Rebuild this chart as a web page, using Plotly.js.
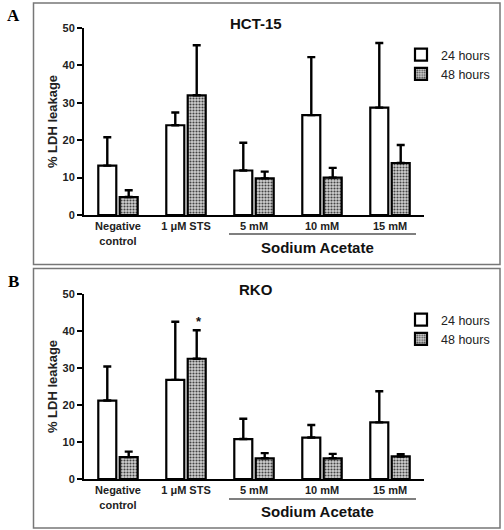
<!DOCTYPE html>
<html>
<head>
<meta charset="utf-8">
<script src="https://cdn.plot.ly/plotly-3.0.1.min.js"></script>
<style>html,body{margin:0;padding:0;background:#fff;overflow:hidden;}#chart{width:504px;height:530px;}</style>
</head>
<body>
<div id="chart"></div>
<script>
const categories = ['Negative<br>control', '1 μM STS', '5 mM', '10 mM', '15 mM'];
const seriesNames = ['24 hours', '48 hours'];
const hct24 = [13.2, 24.0, 11.9, 26.7, 28.7];
const hct24Err = [7.6, 3.4, 7.4, 15.5, 17.3];
const hct48 = [4.8, 32.0, 9.8, 10.0, 13.9];
const hct48Err = [1.8, 13.4, 1.8, 2.6, 4.8];
const rko24 = [21.2, 26.8, 10.8, 11.2, 15.3];
const rko24Err = [9.2, 15.7, 5.5, 3.4, 8.4];
const rko48 = [5.9, 32.5, 5.6, 5.6, 6.1];
const rko48Err = [1.5, 7.7, 1.4, 1.2, 0.6];
const yTicks = [0, 10, 20, 30, 40, 50];
const panelTitles = ['HCT-15', 'RKO'];
const panelLetters = ['A', 'B'];
const groupLabel = 'Sodium Acetate';

const zeros = categories.map(() => 0);
const fontFam = 'Liberation Sans, Arial, sans-serif';

function barTrace(vals, errs, name, is48, xa, ya, legend) {
  const t = {
    type: 'bar', x: categories, y: vals, name: name,
    xaxis: xa, yaxis: ya, legend: legend, showlegend: true,
    marker: { color: '#ffffff', line: { color: '#000', width: 2.2 } },
    error_y: { type: 'data', symmetric: false, array: errs, arrayminus: zeros,
               color: '#000', thickness: 2.4, width: 4 }
  };
  if (is48) {
    t.marker.color = '#b0b0b0';
    t.marker.pattern = { shape: '.', bgcolor: '#d0d0d0', fgcolor: '#444', size: 3, solidity: 0.4 };
  }
  return t;
}

const data = [
  barTrace(hct24, hct24Err, seriesNames[0], false, 'x', 'y', 'legend'),
  barTrace(hct48, hct48Err, seriesNames[1], true, 'x', 'y', 'legend'),
  barTrace(rko24, rko24Err, seriesNames[0], false, 'x2', 'y2', 'legend2'),
  barTrace(rko48, rko48Err, seriesNames[1], true, 'x2', 'y2', 'legend2')
];

const W = 504, H = 530;
const px = v => v / W;
const py = v => 1 - v / H;

function xAxis(anchor) {
  return {
    domain: [px(84), px(424)], anchor: anchor, type: 'category',
    range: [-0.5, 4.5], showline: true, linecolor: '#000', linewidth: 2,
    ticks: '', showgrid: false, zeroline: false, fixedrange: true, automargin: false,
    tickfont: { family: fontFam, size: 11, color: '#222', weight: 'bold' }
  };
}
function yAxis(anchor, top, bottom) {
  return {
    domain: [py(bottom), py(top)], anchor: anchor, range: [0, 50], automargin: false,
    tickvals: yTicks, showline: true, linecolor: '#000', linewidth: 2,
    ticks: 'outside', ticklen: 5, tickwidth: 2, tickcolor: '#000',
    showgrid: false, zeroline: false,
    tickfont: { family: fontFam, size: 11, color: '#222', weight: 'bold' },
    title: { text: '% LDH leakage', standoff: 2,
             font: { family: fontFam, size: 13, color: '#222', weight: 'bold' } }
  };
}

const shapes = [
  { type: 'rect', xref: 'paper', yref: 'paper', x0: px(33.5), x1: px(500), y0: py(264.5), y1: py(3),
    line: { color: '#777', width: 1.5 } },
  { type: 'rect', xref: 'paper', yref: 'paper', x0: px(33.5), x1: px(500), y0: py(528), y1: py(268.5),
    line: { color: '#777', width: 1.5 } },
  { type: 'line', xref: 'paper', yref: 'paper', x0: px(229), x1: px(416), y0: py(234), y1: py(234),
    line: { color: '#000', width: 1.2 } },
  { type: 'line', xref: 'paper', yref: 'paper', x0: px(229), x1: px(416), y0: py(499), y1: py(499),
    line: { color: '#000', width: 1.2 } }
];

const annotations = [
  { text: panelTitles[0], xref: 'paper', yref: 'paper', x: px(256), y: py(24), showarrow: false,
    xanchor: 'center', yanchor: 'middle',
    font: { family: fontFam, size: 15, color: '#111', weight: 'bold' } },
  { text: panelTitles[1], xref: 'paper', yref: 'paper', x: px(256), y: py(289), showarrow: false,
    xanchor: 'center', yanchor: 'middle',
    font: { family: fontFam, size: 15, color: '#111', weight: 'bold' } },
  { text: panelLetters[0], xref: 'paper', yref: 'paper', x: px(13), y: py(16), showarrow: false,
    xanchor: 'center', yanchor: 'middle',
    font: { family: 'Liberation Serif, Times New Roman, serif', size: 17, color: '#000', weight: 'bold' } },
  { text: panelLetters[1], xref: 'paper', yref: 'paper', x: px(13), y: py(281), showarrow: false,
    xanchor: 'center', yanchor: 'middle',
    font: { family: 'Liberation Serif, Times New Roman, serif', size: 17, color: '#000', weight: 'bold' } },
  { text: groupLabel, xref: 'paper', yref: 'paper', x: px(317), y: py(237), showarrow: false,
    xanchor: 'center', yanchor: 'top',
    font: { family: fontFam, size: 15, color: '#111', weight: 'bold' } },
  { text: groupLabel, xref: 'paper', yref: 'paper', x: px(317), y: py(501), showarrow: false,
    xanchor: 'center', yanchor: 'top',
    font: { family: fontFam, size: 15, color: '#111', weight: 'bold' } },
  { text: '*', xref: 'x2', yref: 'y2', x: categories[1], y: rko48[1] + rko48Err[1], xshift: 13,
    yanchor: 'bottom', yshift: -1, showarrow: false,
    font: { family: fontFam, size: 13, color: '#111', weight: 'bold' } }
];

const legendStyle = (top) => ({
  x: px(401), y: py(top), xanchor: 'left', yanchor: 'top', xref: 'paper', yref: 'paper',
  bgcolor: 'rgba(0,0,0,0)', borderwidth: 0, tracegroupgap: 0, itemwidth: 30,
  font: { family: fontFam, size: 12.5, color: '#222' }
});

const layout = {
  width: W, height: H,
  margin: { l: 0, r: 0, t: 0, b: 0, autoexpand: false },
  paper_bgcolor: '#fff', plot_bgcolor: '#fff',
  barmode: 'group', bargap: 0.37, bargroupgap: 0.16,
  showlegend: true,
  legend: legendStyle(40),
  legend2: legendStyle(305),
  xaxis: xAxis('y'), yaxis: yAxis('x', 28, 215),
  xaxis2: xAxis('y2'), yaxis2: yAxis('x2', 294, 479),
  shapes: shapes, annotations: annotations
};

Plotly.newPlot('chart', data, layout, { displayModeBar: false, staticPlot: true });
</script>
</body>
</html>
